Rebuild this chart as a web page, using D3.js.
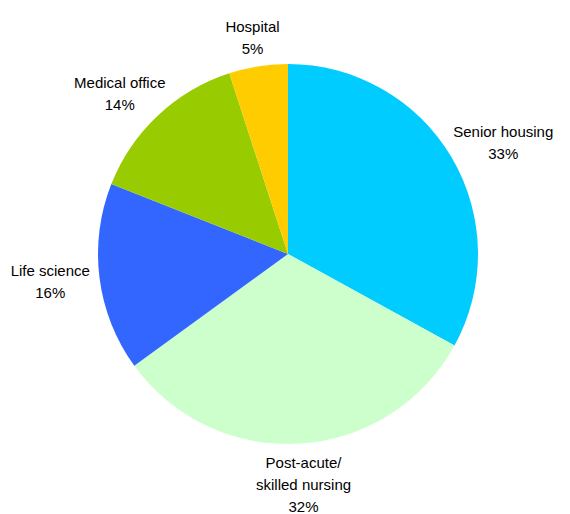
<!DOCTYPE html>
<html>
<head>
<meta charset="utf-8">
<script src="https://cdn.jsdelivr.net/npm/d3@7"></script>
<style>
  body { margin: 0; background: #fff; }
  text { font-family: "Liberation Sans", Arial, sans-serif; font-size: 15px; fill: #000; }
</style>
</head>
<body>
<svg id="chart" width="570" height="514"></svg>
<script>
// slices, clockwise from 12 o'clock
var labels = [["Senior housing"], ["Post-acute/", "skilled nursing"], ["Life science"], ["Medical office"], ["Hospital"]];
var values = [33, 32, 16, 14, 5];
var colors = ["#00CCFF", "#CCFFCC", "#3366FF", "#99CC00", "#FFCC00"];

var svg = d3.select("#chart");
var cx = 288, cy = 254, radius = 190;
var root = svg.append('g').attr('transform', "translate(" + cx + "," + cy + ")");

var pie = d3.pie().sort(null).value(function(d) { return d; });
var arcs = pie(values);
var arc = d3.arc().innerRadius(0).outerRadius(radius);

root.selectAll('path.slice').data(arcs).enter()
    .append('path')
    .attr('class', 'slice')
    .attr('d', arc)
    .attr('fill', function(d, i) { return colors[i]; });

// labels sit just outside the rim, pushed away along the mid angle
var lineH = 22, gap = 10;
arcs.forEach(function(d, i) {
    var mid = (d.startAngle + d.endAngle) / 2;
    var s = Math.sin(mid), c = -Math.cos(mid);
    var lines = labels[i].concat([d.value + "%"]);
    var g = root.append('g');
    var t = g.append('text').attr('text-anchor', 'middle');
    lines.forEach(function(line, k) {
        t.append('tspan').attr('x', 0).attr('dy', k == 0 ? 0 : lineH).text(line);
    });
    var bb = t.node().getBBox();
    var px = (radius + gap) * s, py = (radius + gap) * c;
    var bx = px + s * bb.width / 2, by = py + c * bb.height / 2;
    // shift text so its box center lands on (bx, by)
    var ox = bx - (bb.x + bb.width / 2), oy = by - (bb.y + bb.height / 2);
    g.attr('transform', "translate(" + ox + "," + oy + ")");
});
</script>
</body>
</html>
